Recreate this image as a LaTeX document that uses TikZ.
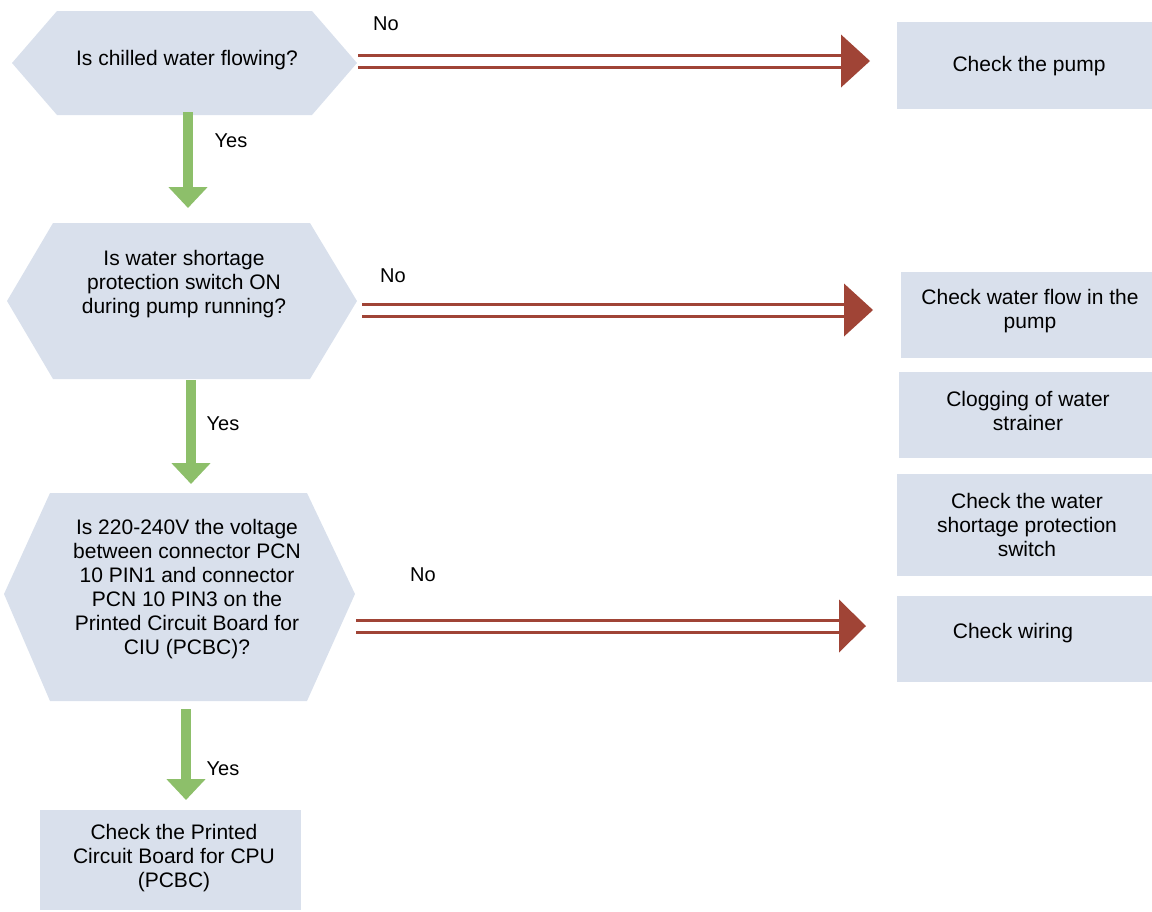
\documentclass[tikz,border=0pt]{standalone}
\usepackage{fontspec}
\setmainfont{Liberation Sans}
\usetikzlibrary{arrows.meta}
\definecolor{boxfill}{RGB}{217,224,236}
\definecolor{nored}{RGB}{160,68,54}
\definecolor{yesgreen}{RGB}{141,191,106}
\begin{document}
\begin{tikzpicture}[x=1pt,y=-1pt,
  txt/.style={align=center,font=\fontsize{21}{24}\selectfont,inner sep=0pt},
  lbl/.style={font=\fontsize{20}{24}\selectfont,inner sep=0pt},
  hexshape/.style={fill=boxfill,draw=none},
  boxshape/.style={fill=boxfill,draw=none},
  redline/.style={draw=nored,line width=3pt},
  redhead/.style={fill=nored,draw=none},
  greenarrow/.style={draw=yesgreen,line width=10pt,-{Triangle[length=21pt,width=38pt]}}]
\useasboundingbox (0,0) rectangle (1152,911);

% hexagons
\fill[hexshape] (12,63) -- (57,11) -- (312,11) -- (357,63) -- (312,115) -- (57,115) -- cycle;
\fill[hexshape] (7,301) -- (53,223) -- (310,223) -- (357,301) -- (310,379) -- (53,379) -- cycle;
\fill[hexshape] (4,594) -- (50,493) -- (307,493) -- (355,594) -- (307,701) -- (50,701) -- cycle;

% boxes
\fill[boxshape] (897,22) rectangle (1152,109);
\fill[boxshape] (901,272) rectangle (1152,358);
\fill[boxshape] (899,372) rectangle (1152,458);
\fill[boxshape] (897,474) rectangle (1152,576);
\fill[boxshape] (897,596) rectangle (1152,682);
\fill[boxshape] (40,810) rectangle (301,910);

% texts
\node[txt] (h1) at (187,60) {Is chilled water flowing?};
\node[txt] (h2) at (184,284) {Is water shortage\\protection switch ON\\during pump running?};
\node[txt] (h3) at (187,589) {Is 220-240V the voltage\\between connector PCN\\10 PIN1 and connector\\PCN 10 PIN3 on the\\Printed Circuit Board for\\CIU (PCBC)?};
\node[txt] (b1) at (1029,66) {Check the pump};
\node[txt] (b2) at (1030,311) {Check water flow in the\\pump};
\node[txt] (b3) at (1028,411) {Clogging of water\\strainer};
\node[txt] (b4) at (1027,525) {Check the water\\shortage protection\\switch};
\node[txt] (b5) at (1013,633) {Check wiring};
\node[txt] (b6) at (174,858) {Check the Printed\\Circuit Board for CPU\\(PCBC)};

% connector end points
\coordinate (h1e) at (358,61);
\coordinate (b1w) at (841,61);
\coordinate (h2e) at (362,310);
\coordinate (b2w) at (844,310);
\coordinate (h3e) at (356,626);
\coordinate (b5w) at (839,626);

% red double arrows (No)
\foreach \s/\e/\tip in {h1e/b1w/29, h2e/b2w/29, h3e/b5w/27}{
  \draw[redline] ([yshift=-6pt]\s) -- ([yshift=-6pt]\e);
  \draw[redline] ([yshift=6pt]\s) -- ([yshift=6pt]\e);
  \fill[redhead] ([yshift=-26.5pt]\e) -- ([xshift=\tip pt]\e) -- ([yshift=26.5pt]\e) -- cycle;
}

% green arrows (Yes)
\coordinate (g1s) at (188,112);
\coordinate (g1e) at (188,208);
\coordinate (g2s) at (191,380);
\coordinate (g2e) at (191,484);
\coordinate (g3s) at (186,709);
\coordinate (g3e) at (186,800);
\draw[greenarrow] (g1s) -- (g1e);
\draw[greenarrow] (g2s) -- (g2e);
\draw[greenarrow] (g3s) -- (g3e);

% labels
\node[lbl] (no1) at (386,24) {No};
\node[lbl] (no2) at (393,276) {No};
\node[lbl] (no3) at (423,575) {No};
\node[lbl] (yes1) at (231,141) {Yes};
\node[lbl] (yes2) at (223,424) {Yes};
\node[lbl] (yes3) at (223,769) {Yes};
\end{tikzpicture}
\end{document}
